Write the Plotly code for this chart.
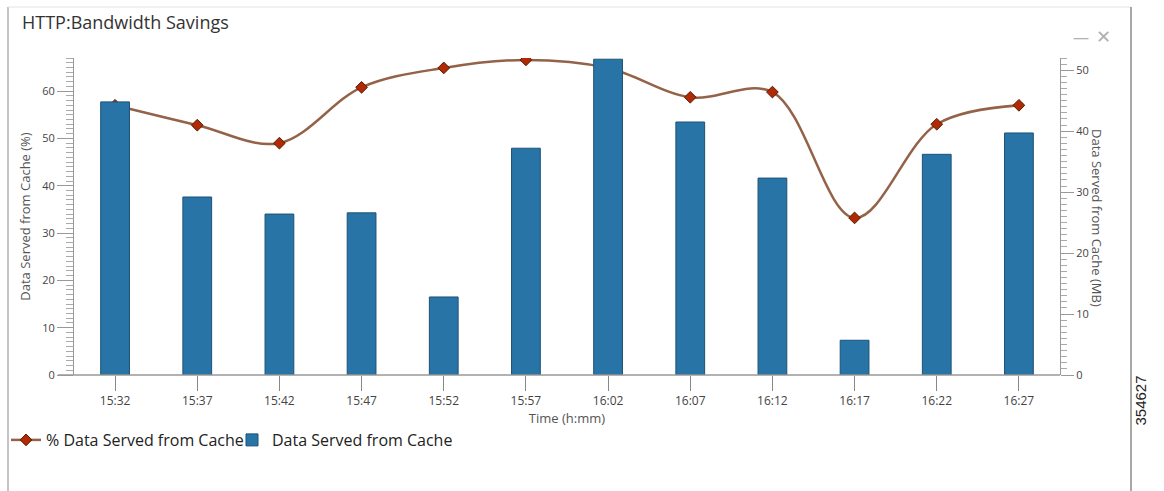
import plotly.graph_objects as go

times = ["15:32", "15:37", "15:42", "15:47", "15:52", "15:57",
         "16:02", "16:07", "16:12", "16:17", "16:22", "16:27"]
pct_served = [57.0, 52.8, 49.0, 60.8, 64.9, 66.6, 64.9, 58.7, 59.8, 33.2, 53.0, 57.0]
mb_served = [44.8, 29.2, 26.4, 26.6, 12.8, 37.2, 51.8, 41.5, 32.3, 5.7, 36.2, 39.7]

W, H = 1164, 491
L, R, T, B = 74, 1060, 58, 375

def px(x):
    return (x - L) / (R - L)

def py(y):
    return (B - y) / (B - T)

font_fam = "Open Sans, DejaVu Sans, sans-serif"
gray = "#555555"

fig = go.Figure()

fig.add_trace(go.Bar(
    x=times, y=mb_served, name="Data Served from Cache", yaxis="y2",
    width=0.35, legendrank=2,
    marker=dict(color="#2874A6", line=dict(color="#1C5276", width=1)),
))

fig.add_trace(go.Scatter(
    x=times, y=pct_served, name="% Data Served from Cache", yaxis="y",
    mode="lines+markers", legendrank=1,
    line=dict(color="#946248", width=2.5, shape="spline", smoothing=1.0),
    marker=dict(symbol="diamond", size=9, color="#B02A05",
                line=dict(color="#5A1A00", width=1)),
))

fig.update_layout(
    width=W, height=H,
    margin=dict(l=L, r=W - R, t=T, b=H - B, autoexpand=False),
    paper_bgcolor="white", plot_bgcolor="white",
    font=dict(family=font_fam, color=gray, size=11),
    showlegend=True,
    legend=dict(orientation="h", x=px(6), xanchor="left", y=py(440), yanchor="middle",
                font=dict(size=16, color="#222222"),
                itemwidth=30, entrywidth=181, entrywidthmode="pixels",
                bgcolor="rgba(0,0,0,0)"),
    xaxis=dict(type="category", range=[-0.5, 11.5], showgrid=False,
               showline=False, ticks="outside", ticklen=15, tickcolor="#888888",
               tickfont=dict(size=12, color="#444444"),
               title=dict(text="Time (h:mm)", font=dict(size=13, color=gray), standoff=2)),
    yaxis=dict(range=[0, 67], showgrid=False, zeroline=False,
               showline=True, linecolor="#999999", linewidth=1,
               ticks="outside", ticklen=16, tickcolor="#999999", dtick=10,
               minor=dict(dtick=1, ticklen=7, ticks="outside", tickcolor="#aaaaaa"),
               tickfont=dict(size=11, color="#444444"),
               title=dict(text="Data Served from Cache (%)", font=dict(size=13, color=gray), standoff=8)),
    yaxis2=dict(range=[0, 52], overlaying="y", side="right", showgrid=False, zeroline=False,
                showline=True, linecolor="#999999", linewidth=1,
                ticks="outside", ticklen=13, tickcolor="#999999", dtick=10,
                minor=dict(dtick=1, ticklen=6, ticks="outside", tickcolor="#aaaaaa"),
                tickfont=dict(size=11, color="#444444")),
)

# x-axis baseline extending past the left axis
fig.add_shape(type="line", xref="paper", yref="paper", x0=px(58), x1=1.0, y0=0, y1=0,
              line=dict(color="#999999", width=1.5))

# panel frame
fig.add_shape(type="line", xref="paper", yref="paper", x0=px(8), x1=px(8), y0=py(7), y1=py(491),
              line=dict(color="#b0b0b0", width=1.5))
fig.add_shape(type="line", xref="paper", yref="paper", x0=px(8), x1=px(1131), y0=py(7), y1=py(7),
              line=dict(color="#e2e2e2", width=1))
fig.add_shape(type="line", xref="paper", yref="paper", x0=px(1131), x1=px(1131), y0=py(7), y1=py(491),
              line=dict(color="#8a8a8a", width=1.5))

# title
fig.add_annotation(text="HTTP:Bandwidth Savings", xref="paper", yref="paper",
                   x=px(20), y=py(22), xanchor="left", yanchor="middle", showarrow=False,
                   font=dict(size=18, color="#333333", family=font_fam))
# window icons
fig.add_annotation(text="\u2014", xref="paper", yref="paper", x=px(1091), y=py(24),
                   showarrow=False, font=dict(size=16, color="#b0b0b0"))
fig.add_annotation(text="\u2715", xref="paper", yref="paper", x=px(1113), y=py(22),
                   showarrow=False, font=dict(size=18, color="#b0b0b0"))
# right axis title
fig.add_annotation(text="Data Served from Cache (MB)", xref="paper", yref="paper",
                   x=px(1108), y=py(218), textangle=90, showarrow=False,
                   font=dict(size=13, color=gray))
# figure id
fig.add_annotation(text="354627", xref="paper", yref="paper",
                   x=px(1150), y=py(428), textangle=-90, showarrow=False,
                   font=dict(size=15, color="#222222", family="Liberation Sans, Arial, sans-serif"))

fig.write_html("out.html", config={"displayModeBar": False},
               post_script="document.body.style.margin='0px';")
